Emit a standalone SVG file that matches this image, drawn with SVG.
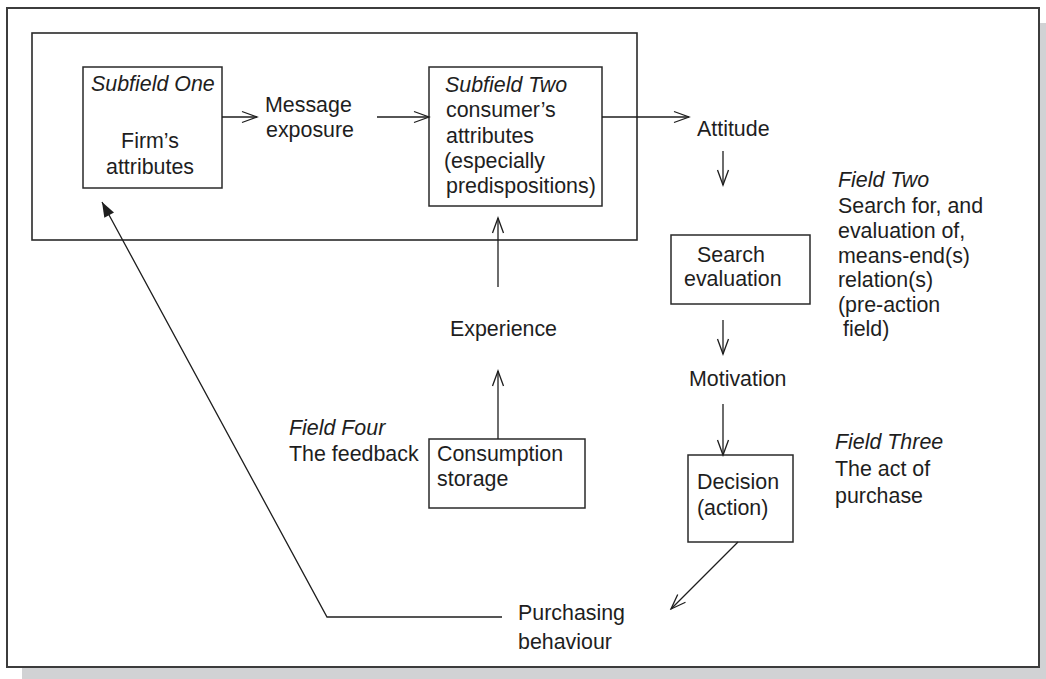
<svg xmlns="http://www.w3.org/2000/svg" width="1046" height="679" viewBox="0 0 1046 679">
  <style>
    .frame { fill: #ffffff; stroke: #3c3c3c; stroke-width: 2; }
    .shadow { fill: #d1d2d4; }
    .box { fill: #ffffff; stroke: #2a2a2a; stroke-width: 1.5; }
    .group { fill: none; stroke: #2a2a2a; stroke-width: 1.6; }
    .t { font-family: "Liberation Sans", Arial, Helvetica, sans-serif; font-size: 21.4px; fill: #1e1e1e; }
    .i { font-style: italic; }
    .c { text-anchor: middle; }
    .link { fill: none; stroke: #1e1e1e; stroke-width: 1.3; }
  </style>
  <defs>
    <marker id="open" markerUnits="userSpaceOnUse" viewBox="-17 -8 19 16" markerWidth="19" markerHeight="16" refX="0" refY="0" orient="auto">
      <path d="M-15,-5.5 L0,0 L-15,5.5" fill="none" stroke="#1e1e1e" stroke-width="1.3"/>
    </marker>
    <marker id="solid" markerUnits="userSpaceOnUse" viewBox="-17 -8 19 16" markerWidth="19" markerHeight="16" refX="0" refY="0" orient="auto">
      <path d="M-15,-5.5 L0,0 L-15,5.5 Z" fill="#1e1e1e"/>
    </marker>
  </defs>

  <!-- page frame with drop shadow -->
  <rect class="shadow" x="22" y="23" width="1032" height="660"/>
  <rect class="frame" x="7" y="8" width="1032" height="659"/>

  <!-- Field One enclosure -->
  <g id="field-one">
    <rect class="group" x="32" y="33" width="605" height="207"/>
  </g>

  <g id="subfield-one">
    <rect class="box" x="83" y="67" width="139" height="121"/>
    <text class="t i" x="91" y="91">Subfield One</text>
    <text class="t c" x="150" y="148">Firm’s</text>
    <text class="t c" x="150" y="174">attributes</text>
  </g>

  <g id="message-exposure">
    <text class="t" x="265" y="112">Message</text>
    <text class="t" x="266" y="137">exposure</text>
  </g>

  <g id="subfield-two">
    <rect class="box" x="429" y="67" width="173" height="139"/>
    <text class="t i" x="445" y="92">Subfield Two</text>
    <text class="t" x="446" y="117">consumer’s</text>
    <text class="t" x="446" y="143">attributes</text>
    <text class="t" x="444" y="168">(especially</text>
    <text class="t" x="446" y="193">predispositions)</text>
  </g>

  <g id="attitude">
    <text class="t" x="697" y="136">Attitude</text>
  </g>

  <g id="field-two">
    <text class="t i" x="838" y="187">Field Two</text>
    <text class="t" x="838" y="213">Search for, and</text>
    <text class="t" x="838" y="238">evaluation of,</text>
    <text class="t" x="838" y="263">means-end(s)</text>
    <text class="t" x="838" y="287">relation(s)</text>
    <text class="t" x="838" y="312">(pre-action</text>
    <text class="t" x="843" y="336">field)</text>
  </g>

  <g id="search-evaluation">
    <rect class="box" x="671" y="235" width="139" height="69"/>
    <text class="t" x="697" y="262">Search</text>
    <text class="t" x="684" y="286">evaluation</text>
  </g>

  <g id="motivation">
    <text class="t" x="689" y="386">Motivation</text>
  </g>

  <g id="decision">
    <rect class="box" x="688" y="455" width="105" height="87"/>
    <text class="t" x="697" y="489">Decision</text>
    <text class="t" x="697" y="515">(action)</text>
  </g>

  <g id="field-three">
    <text class="t i" x="835" y="449">Field Three</text>
    <text class="t" x="835" y="476">The act of</text>
    <text class="t" x="835" y="503">purchase</text>
  </g>

  <g id="purchasing-behaviour">
    <text class="t" x="518" y="620">Purchasing</text>
    <text class="t" x="518" y="649">behaviour</text>
  </g>

  <g id="experience">
    <text class="t" x="450" y="336">Experience</text>
  </g>

  <g id="consumption-storage">
    <rect class="box" x="429" y="439" width="156" height="69"/>
    <text class="t" x="437" y="461">Consumption</text>
    <text class="t" x="437" y="486">storage</text>
  </g>

  <g id="field-four">
    <text class="t i" x="289" y="435">Field Four</text>
    <text class="t" x="289" y="461">The feedback</text>
  </g>

  <!-- connectors -->
  <g id="connectors">
    <line class="link" x1="222" y1="117" x2="257" y2="117" marker-end="url(#open)"/>
    <line class="link" x1="377" y1="117" x2="429" y2="117" marker-end="url(#open)"/>
    <line class="link" x1="602" y1="117" x2="689" y2="117" marker-end="url(#open)"/>
    <line class="link" x1="723" y1="151" x2="723" y2="185" marker-end="url(#open)"/>
    <line class="link" x1="723" y1="320" x2="723" y2="354" marker-end="url(#open)"/>
    <line class="link" x1="723" y1="404" x2="723" y2="455" marker-end="url(#open)"/>
    <line class="link" x1="738" y1="542" x2="671" y2="609" marker-end="url(#open)"/>
    <line class="link" x1="498" y1="439" x2="498" y2="371" marker-end="url(#open)"/>
    <line class="link" x1="498" y1="287" x2="498" y2="218" marker-end="url(#open)"/>
    <polyline class="link" points="502,617 327,617 102,202" marker-end="url(#solid)"/>
  </g>
</svg>
